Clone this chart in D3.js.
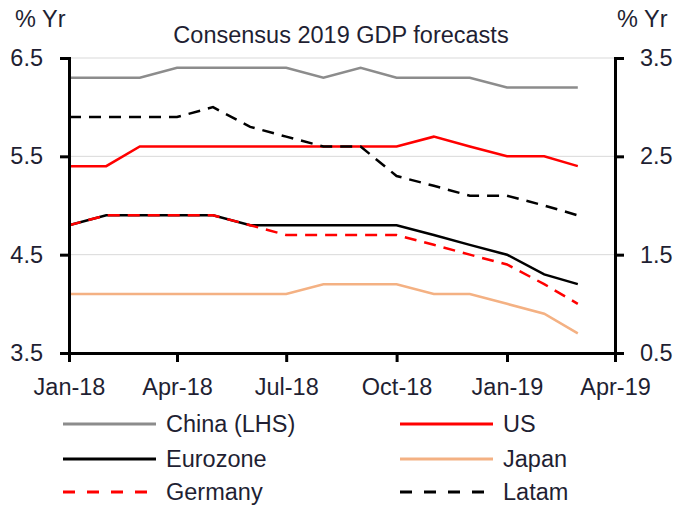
<!DOCTYPE html>
<html>
<head>
<meta charset="utf-8">
<script src="https://cdn.jsdelivr.net/npm/d3@7"></script>
<style>
  body { margin: 0; background: #fff; }
  text { font-family: "Liberation Sans", Arial, sans-serif; fill: #1f1f33; }
</style>
</head>
<body>
<div id="chart"></div>
<script>
// monthly consensus forecasts, Jan-18 .. Mar-19
var months = ["2018-01","2018-02","2018-03","2018-04","2018-05","2018-06","2018-07","2018-08",
              "2018-09","2018-10","2018-11","2018-12","2019-01","2019-02","2019-03"];
var china    = [6.3, 6.3, 6.3, 6.4, 6.4, 6.4, 6.4, 6.3, 6.4, 6.3, 6.3, 6.3, 6.2, 6.2, 6.2];
var us       = [2.4, 2.4, 2.6, 2.6, 2.6, 2.6, 2.6, 2.6, 2.6, 2.6, 2.7, 2.6, 2.5, 2.5, 2.4];
var eurozone = [1.8, 1.9, 1.9, 1.9, 1.9, 1.8, 1.8, 1.8, 1.8, 1.8, 1.7, 1.6, 1.5, 1.3, 1.2];
var japan    = [1.1, 1.1, 1.1, 1.1, 1.1, 1.1, 1.1, 1.2, 1.2, 1.2, 1.1, 1.1, 1.0, 0.9, 0.7];
var germany  = [1.8, 1.9, 1.9, 1.9, 1.9, 1.8, 1.7, 1.7, 1.7, 1.7, 1.6, 1.5, 1.4, 1.2, 1.0];
var latam    = [2.9, 2.9, 2.9, 2.9, 3.0, 2.8, 2.7, 2.6, 2.6, 2.3, 2.2, 2.1, 2.1, 2.0, 1.9];

var leftTicks = [3.5, 4.5, 5.5, 6.5];
var rightTicks = [0.5, 1.5, 2.5, 3.5];
var xTicks = ["2018-01","2018-04","2018-07","2018-10","2019-01","2019-04"];

var width = 676, height = 507;
var margin = {left: 69, right: 61, top: 58, bottom: 154};
var fontSize = "23.5px";

var parse = d3.timeParse("%Y-%m");
var dates = months.map(parse);

var svg = d3.select("#chart").append("svg")
    .attr("width", width)
    .attr("height", height);

var x = d3.scaleTime()
    .domain([parse("2018-01"), parse("2019-04")])
    .range([margin.left, width - margin.right]);
var yL = d3.scaleLinear()
    .domain([3.5, 6.5])
    .range([height - margin.bottom, margin.top]);
var yR = d3.scaleLinear()
    .domain([0.5, 3.5])
    .range([height - margin.bottom, margin.top]);

// gridlines
svg.append("g").selectAll("line")
    .data(leftTicks.slice(1))
    .enter().append("line")
    .attr("x1", margin.left).attr("x2", width - margin.right)
    .attr("y1", function (d) { return yL(d); })
    .attr("y2", function (d) { return yL(d); })
    .attr("stroke", "#d9d9d9")
    .attr("stroke-width", 1);

var series = [
    {name: "China (LHS)", values: china, axis: yL, color: "#8c8c8c", dash: null},
    {name: "US", values: us, axis: yR, color: "#ff0000", dash: null},
    {name: "Eurozone", values: eurozone, axis: yR, color: "#000000", dash: null},
    {name: "Japan", values: japan, axis: yR, color: "#f4b183", dash: null},
    {name: "Germany", values: germany, axis: yR, color: "#ff0000", dash: "12,8"},
    {name: "Latam", values: latam, axis: yR, color: "#000000", dash: "12,8"}
];

// draw order: solid first, dashed on top
var drawOrder = [series[0], series[3], series[1], series[2], series[5], series[4]];

drawOrder.forEach(function (s) {
    var line = d3.line()
        .x(function (d, i) { return x(dates[i]); })
        .y(function (d) { return s.axis(d); });
    svg.append("path")
        .datum(s.values)
        .attr("fill", "none")
        .attr("stroke", s.color)
        .attr("stroke-width", 2.5)
        .attr("stroke-dasharray", s.dash)
        .attr("d", line);
});

// axes
var axisL = svg.append("g")
    .attr("transform", "translate(" + margin.left + ",0)")
    .call(d3.axisLeft(yL).tickValues(leftTicks).tickFormat(d3.format(".1f")).tickSize(9).tickPadding(17));
var axisR = svg.append("g")
    .attr("transform", "translate(" + (width - margin.right) + ",0)")
    .call(d3.axisRight(yR).tickValues(rightTicks).tickFormat(d3.format(".1f")).tickSize(9).tickPadding(16));
var axisB = svg.append("g")
    .attr("transform", "translate(0," + (height - margin.bottom) + ")")
    .call(d3.axisBottom(x).tickValues(xTicks.map(parse)).tickFormat(d3.timeFormat("%b-%y")).tickSize(9).tickPadding(16));

[axisL, axisR, axisB].forEach(function (a) {
    a.select(".domain").attr("stroke", "#000").attr("stroke-width", 3);
    a.selectAll(".tick line").attr("stroke", "#000").attr("stroke-width", 3);
    a.selectAll(".tick text").style("font-size", fontSize).attr("fill", "#1f1f33");
});

// titles
svg.append("text")
    .attr("x", 341).attr("y", 43)
    .attr("text-anchor", "middle")
    .style("font-size", fontSize)
    .text("Consensus 2019 GDP forecasts");
svg.append("text")
    .attr("x", 15).attr("y", 27)
    .style("font-size", fontSize)
    .text("% Yr");
svg.append("text")
    .attr("x", 617).attr("y", 27)
    .style("font-size", fontSize)
    .text("% Yr");

// legend
var legendCols = [63, 400];
var legendRows = [424, 459, 492];
legendRowsText = [432, 467, 500];
series.forEach(function (s, i) {
    var lx = legendCols[i % 2], r = Math.floor(i / 2);
    svg.append("line")
        .attr("x1", lx).attr("x2", lx + 93)
        .attr("y1", legendRows[r]).attr("y2", legendRows[r])
        .attr("stroke", s.color)
        .attr("stroke-width", 3)
        .attr("stroke-dasharray", s.dash ? "12,12" : null);
    svg.append("text")
        .attr("x", lx + 103).attr("y", legendRowsText[r])
        .style("font-size", fontSize)
        .text(s.name);
});
</script>
</body>
</html>
